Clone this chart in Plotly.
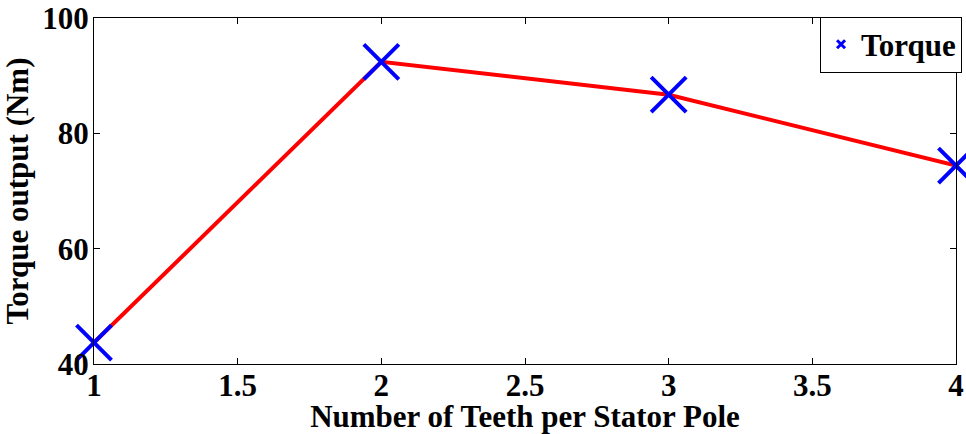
import plotly.graph_objects as go

teeth = [1, 2, 3, 4]
torque = [43.7, 92.4, 86.7, 74.4]
x_ticks = [1, 1.5, 2, 2.5, 3, 3.5, 4]
x_tick_labels = ["1", "1.5", "2", "2.5", "3", "3.5", "4"]
y_ticks = [40, 60, 80, 100]
y_tick_labels = ["40", "60", "80", "100"]

font_family = "Liberation Serif"
FS = 31

fig = go.Figure()
fig.add_trace(go.Scatter(
    x=teeth, y=torque, mode="lines",
    line=dict(color="#ff0000", width=4),
    showlegend=False, hoverinfo="skip", cliponaxis=False,
))
fig.add_trace(go.Scatter(
    x=teeth, y=torque, mode="markers", name="Torque",
    marker=dict(symbol="x-thin", size=35, color="#0000ff",
                line=dict(color="#0000ff", width=4)),
    showlegend=False, cliponaxis=False,
))
# legend-only entry with a small marker like the reference
fig.add_trace(go.Scatter(
    x=[None], y=[None], mode="markers", name="Torque",
    marker=dict(symbol="x-thin", size=8, color="#0000ff",
                line=dict(color="#0000ff", width=3)),
))

axis_common = dict(
    showline=True, linecolor="black", linewidth=1, mirror="ticks",
    ticks="inside", ticklen=6, tickcolor="black", tickwidth=1,
    showgrid=False, zeroline=False, automargin=False,
    ticklabeloverflow="allow",
    tickfont=dict(family=font_family, size=FS, color="black"),
)

fig.update_xaxes(
    range=[1, 4], tickvals=x_ticks, ticktext=x_tick_labels,
    ticklabelstandoff=-6,
    title=dict(text="<b>Number of Teeth per Stator Pole</b>",
               font=dict(family=font_family, size=FS, color="black"),
               standoff=0),
    **axis_common,
)
fig.update_yaxes(
    range=[40, 100], tickvals=y_ticks, ticktext=y_tick_labels,
    ticklabelstandoff=-2,
    title=dict(text="<b>Torque output (Nm)</b>",
               font=dict(family=font_family, size=FS, color="black"),
               standoff=18),
    **axis_common,
)
fig.update_layout(
    width=966, height=434,
    margin=dict(l=94, r=4, t=17.5, b=69.5),
    paper_bgcolor="white", plot_bgcolor="white",
    font=dict(family=font_family, size=FS, color="black", weight="bold"),
    legend=dict(
        x=1.007, y=1.004, xanchor="right", yanchor="top",
        bgcolor="white", bordercolor="black", borderwidth=1,
        font=dict(family=font_family, size=FS, color="black", weight="bold"),
        itemwidth=30, tracegroupgap=0,
    ),
)
fig.write_html(
    "out.html",
    config={"displayModeBar": False},
    post_script="document.body.style.margin='0';document.body.style.overflow='hidden';",
)
